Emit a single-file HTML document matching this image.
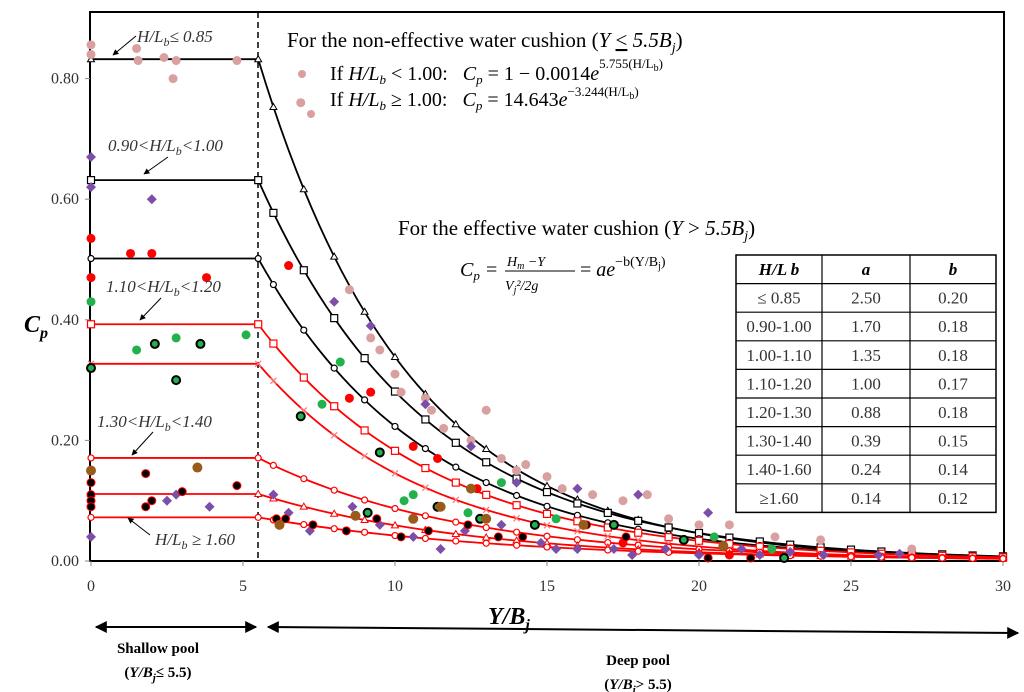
<!DOCTYPE html>
<html><head><meta charset="utf-8">
<style>
body{margin:0;background:#fff;}
svg{display:block;font-family:"Liberation Serif",serif;}
.tk{font-size:16px;fill:#333;}
</style></head>
<body>
<svg id="chart" width="1024" height="692" viewBox="0 0 1024 692">
<defs>
<marker id="ah" viewBox="0 0 10 10" refX="9" refY="5" markerWidth="6" markerHeight="6" orient="auto-start-reverse"><path d="M0,0 L10,5 L0,10 z" fill="#000"/></marker>
</defs>
<rect x="90" y="12" width="914" height="549" fill="none" stroke="#000" stroke-width="2"/>
<line x1="258" y1="12" x2="258" y2="561" stroke="#000" stroke-width="1.5" stroke-dasharray="6,4"/>
<g id="axes"></g>
<g id="curves"></g>
<g id="points"></g>
<text x="287" y="47" font-size="21">For the non-effective water cushion (<tspan font-style="italic">Y</tspan> <tspan text-decoration="underline">&lt;</tspan> <tspan font-style="italic">5.5B<tspan font-size="14" dy="5">j</tspan></tspan><tspan dy="-5">)</tspan></text>
<circle cx="302" cy="74" r="4" fill="#d9a0a0"/>
<text x="330" y="80" font-size="20">If <tspan font-style="italic">H/L<tspan font-size="13" dy="4">b</tspan></tspan><tspan dy="-4"> &lt; 1.00:    </tspan><tspan font-style="italic" dx="10">C<tspan font-size="13" dy="4">p</tspan></tspan><tspan dy="-4"> = 1 − 0.0014<tspan font-style="italic">e</tspan></tspan><tspan font-size="13" dy="-12">5.755(H/L<tspan font-size="10" dy="3">b</tspan><tspan dy="-3">)</tspan></tspan></text>
<circle cx="311" cy="114" r="4" fill="#d9a0a0"/>
<text x="330" y="106" font-size="20">If <tspan font-style="italic">H/L<tspan font-size="13" dy="4">b</tspan></tspan><tspan dy="-4"> ≥ 1.00:    </tspan><tspan font-style="italic" dx="10">C<tspan font-size="13" dy="4">p</tspan></tspan><tspan dy="-4"> = 14.643<tspan font-style="italic">e</tspan></tspan><tspan font-size="13" dy="-10">−3.244(H/L<tspan font-size="10" dy="3">b</tspan><tspan dy="-3">)</tspan></tspan></text>
<text x="398" y="235" font-size="21">For the effective water cushion (<tspan font-style="italic">Y</tspan> &gt; <tspan font-style="italic">5.5B<tspan font-size="14" dy="5">j</tspan></tspan><tspan dy="-5">)</tspan></text>
<g font-size="20">
<text x="460" y="276" font-style="italic">C<tspan font-size="13" dy="4">p</tspan></text>
<text x="486" y="276">=</text>
<text x="507" y="266" font-size="14" font-style="italic">H<tspan font-size="10" dy="3">m</tspan><tspan dy="-3"> −Y</tspan></text>
<line x1="505" y1="271" x2="575" y2="271" stroke="#000" stroke-width="1"/>
<text x="505" y="290" font-size="14" font-style="italic">V<tspan font-size="10" dy="3">j</tspan><tspan dy="-3">²/2g</tspan></text>
<text x="580" y="276">= <tspan font-style="italic">ae</tspan><tspan font-size="14" dy="-10">−b(Y/B<tspan font-size="10" dy="3">j</tspan><tspan dy="-3">)</tspan></tspan></text>
</g>
<g id="table"></g>
<text x="24" y="332" font-size="24" font-weight="bold" font-style="italic">C<tspan font-size="16" dy="6">p</tspan></text>
<text x="488" y="624" font-size="24" font-weight="bold" font-style="italic">Y/B<tspan font-size="16" dy="6">j</tspan></text>
<line x1="96" y1="627" x2="256" y2="627" stroke="#000" stroke-width="2" marker-start="url(#ah)" marker-end="url(#ah)"/>
<line x1="268" y1="627" x2="1018" y2="633" stroke="#000" stroke-width="2" marker-start="url(#ah)" marker-end="url(#ah)"/>
<text x="158" y="653" font-size="15" font-weight="bold" text-anchor="middle">Shallow pool</text>
<text x="158" y="677" font-size="15" font-weight="bold" text-anchor="middle">(<tspan font-style="italic">Y/B<tspan font-size="11" dy="4">j</tspan></tspan><tspan dy="-4">≤ 5.5)</tspan></text>
<text x="638" y="665" font-size="15" font-weight="bold" text-anchor="middle">Deep pool</text>
<text x="638" y="689" font-size="15" font-weight="bold" text-anchor="middle">(<tspan font-style="italic">Y/B<tspan font-size="11" dy="4">j</tspan></tspan><tspan dy="-4">&gt; 5.5)</tspan></text>
<g font-size="17" font-style="italic" fill="#333">
<text x="137" y="42">H/L<tspan font-size="12" dy="4">b</tspan><tspan dy="-4">≤ 0.85</tspan></text>
<line x1="136" y1="36" x2="113" y2="55" stroke="#000" marker-end="url(#ah)"/>
<text x="108" y="151">0.90&lt;H/L<tspan font-size="12" dy="4">b</tspan><tspan dy="-4">&lt;1.00</tspan></text>
<line x1="168" y1="157" x2="144" y2="174" stroke="#000" marker-end="url(#ah)"/>
<text x="106" y="292">1.10&lt;H/L<tspan font-size="12" dy="4">b</tspan><tspan dy="-4">&lt;1.20</tspan></text>
<line x1="161" y1="298" x2="140" y2="320" stroke="#000" marker-end="url(#ah)"/>
<text x="97" y="427">1.30&lt;H/L<tspan font-size="12" dy="4">b</tspan><tspan dy="-4">&lt;1.40</tspan></text>
<line x1="153" y1="432" x2="132" y2="455" stroke="#000" marker-end="url(#ah)"/>
<text x="155" y="545">H/L<tspan font-size="12" dy="4">b</tspan><tspan dy="-4"> ≥ 1.60</tspan></text>
<line x1="150" y1="535" x2="128" y2="518" stroke="#000" marker-end="url(#ah)"/>
</g>
</svg>
<script>
const xTicks=[0,5,10,15,20,25,30];
const yTicks=[0,0.2,0.4,0.6,0.8];
const groups=["≤ 0.85","0.90-1.00","1.00-1.10","1.10-1.20","1.20-1.30","1.30-1.40","1.40-1.60","≥1.60"];
const aVals=[2.50,1.70,1.35,1.00,0.88,0.39,0.24,0.14];
const bVals=[0.20,0.18,0.18,0.17,0.18,0.15,0.14,0.12];
const curveColors=["#000","#000","#000","red","red","red","red","red"];
const curveMarks=["tri","sq","circ","sq","x","circ","tri","circ"];
const pinkPts=[[0,0.856],[0,0.84],[1.5,0.85],[1.55,0.83],[2.4,0.835],[2.8,0.83],[2.7,0.80],[4.8,0.83],[6.9,0.76],[8.5,0.45],[9.2,0.37],[9.5,0.35],[10,0.31],[10.2,0.28],[11,0.27],[11.2,0.25],[11.6,0.22],[12.5,0.2],[13,0.25],[13.5,0.17],[14,0.15],[14.3,0.16],[15,0.14],[15.5,0.12],[16.5,0.11],[17.5,0.1],[18.3,0.11],[19,0.07],[20,0.06],[21,0.06],[22.5,0.04],[24,0.035],[27,0.02]];
const purplePts=[[0,0.67],[0,0.62],[2,0.6],[0,0.04],[2.5,0.1],[2.8,0.11],[3.9,0.09],[8,0.43],[9.2,0.39],[11,0.26],[12.5,0.19],[14,0.13],[16,0.12],[18,0.11],[20.3,0.08],[6,0.11],[6.5,0.08],[7.2,0.05],[8.6,0.09],[9.5,0.06],[10.6,0.04],[11.5,0.02],[12.3,0.05],[13.5,0.06],[14.8,0.03],[15.3,0.02],[16,0.02],[17.2,0.02],[17.8,0.01],[18.9,0.02],[20,0.01],[21.4,0.02],[22,0.01],[23,0.015],[24.1,0.01],[25.9,0.01],[26.6,0.012]];
const redPts=[[0,0.535],[0,0.47],[1.3,0.51],[2,0.51],[3.8,0.47],[6.5,0.49],[9.2,0.28],[8.5,0.27],[10.6,0.19],[11.4,0.17],[12.7,0.12],[17.5,0.03],[21,0.01]];
const greenPts=[[0,0.43],[1.5,0.35],[2.8,0.37],[5.1,0.375],[7.6,0.26],[8.2,0.33],[10.3,0.1],[10.6,0.11],[12.4,0.08],[13.5,0.13],[15.3,0.07],[20.5,0.04],[22.4,0.02]];
const greenRingPts=[[0,0.32],[2.1,0.36],[3.6,0.36],[2.8,0.3],[6.9,0.24],[9.5,0.18],[9.1,0.08],[11.4,0.09],[12.8,0.07],[14.6,0.06],[17.2,0.06],[19.5,0.035],[22.8,0.005]];
const blackPts=[[0,0.13],[0,0.11],[0,0.1],[0,0.09],[1.8,0.09],[2,0.1],[3,0.115],[6.1,0.07],[6.4,0.07],[7.3,0.06],[8.4,0.05],[9.4,0.07],[10.2,0.04],[11.1,0.05],[12.4,0.06],[13.4,0.04],[14.2,0.04],[16.3,0.06],[17.6,0.04],[20.3,0.005],[21.7,0.005],[1.8,0.145],[4.8,0.125]];
const brownPts=[[0,0.15],[3.5,0.155],[6.2,0.06],[8.7,0.075],[10.6,0.07],[11.5,0.09],[12.5,0.12],[13,0.07],[16.2,0.06],[20.8,0.025]];

const NS="http://www.w3.org/2000/svg";
const X=v=>91+v*30.4, Y=v=>561-v*603;
function mk(tag,attrs,parent){const e=document.createElementNS(NS,tag);for(const k in attrs)e.setAttribute(k,attrs[k]);parent.appendChild(e);return e;}
const axes=document.getElementById('axes');
xTicks.forEach(t=>{
  mk('line',{x1:X(t),y1:561,x2:X(t),y2:566,stroke:'#888'},axes);
  const tx=mk('text',{x:X(t),y:591,'text-anchor':'middle',class:'tk'},axes);tx.textContent=t;
  
  
});
yTicks.forEach(t=>{
  mk('line',{x1:85,y1:Y(t),x2:90,y2:Y(t),stroke:'#888'},axes);
  const tx=mk('text',{x:79,y:Y(t)+5,'text-anchor':'end',class:'tk'},axes);tx.textContent=t.toFixed(2);
  
  
});
const cg=document.getElementById('curves');
function marker(type,cx,cy,col,g){
  if(type==='tri')mk('path',{d:`M${cx},${cy-3.5}L${cx+3.5},${cy+2.5}L${cx-3.5},${cy+2.5}Z`,fill:'#fff',stroke:col,'stroke-width':1},g);
  else if(type==='sq')mk('rect',{x:cx-3.5,y:cy-3.5,width:7,height:7,fill:'#fff',stroke:col,'stroke-width':1.2},g);
  else if(type==='x'){mk('path',{d:`M${cx-3},${cy-3}L${cx+3},${cy+3}M${cx-3},${cy+3}L${cx+3},${cy-3}`,stroke:'#f77','stroke-width':1.2},g);}
  else mk('circle',{cx:cx,cy:cy,r:3,fill:'#fff',stroke:col,'stroke-width':1.2},g);
}
aVals.forEach((a,i)=>{
  const b=bVals[i],col=curveColors[i];
  const g=mk('g',{},cg);
  
  
  const f=x=>a*Math.exp(-b*Math.max(x,5.5));
  let d=`M${X(0)},${Y(f(0))}`;
  for(let x=5.5;x<=30.001;x+=0.25)d+=`L${X(x)},${Y(f(x))}`;
  mk('path',{d:d,fill:'none',stroke:col,'stroke-width':1.8},g);
  marker(curveMarks[i],X(0),Y(f(0)),col,g);
  marker(curveMarks[i],X(5.5),Y(f(5.5)),col,g);
  for(let x=6;x<=30;x+=1)marker(curveMarks[i],X(x),Y(f(x)),col,g);
});
const pg=document.getElementById('points');
function scatter(pts,name,draw){
  const g=mk('g',{},pg);
  
  
  pts.forEach(p=>draw(X(p[0]),Y(p[1]),g));
}
scatter(pinkPts,'series-pink',(x,y,g)=>mk('circle',{cx:x,cy:y,r:4.5,fill:'#d9a0a0'},g));
scatter(purplePts,'series-purple',(x,y,g)=>mk('path',{d:`M${x},${y-5}L${x+5},${y}L${x},${y+5}L${x-5},${y}Z`,fill:'#7b4fa8'},g));
scatter(redPts,'series-red',(x,y,g)=>mk('circle',{cx:x,cy:y,r:4.5,fill:'#f00'},g));
scatter(greenPts,'series-green',(x,y,g)=>mk('circle',{cx:x,cy:y,r:4.5,fill:'#22b14c'},g));
scatter(greenRingPts,'series-green-ring',(x,y,g)=>mk('circle',{cx:x,cy:y,r:4,fill:'#22b14c',stroke:'#000','stroke-width':2},g));
scatter(blackPts,'series-black',(x,y,g)=>mk('circle',{cx:x,cy:y,r:4,fill:'#000',stroke:'#f00','stroke-width':1},g));
scatter(brownPts,'series-brown',(x,y,g)=>mk('circle',{cx:x,cy:y,r:5,fill:'#9a5b1a'},g));
// table
const tb=document.getElementById('table');
const tCols=[736,822,910,996],tTop=255,rh=28.6;
const nRows=groups.length+1;
mk('rect',{x:736,y:tTop,width:260,height:rh*nRows,fill:'#fff',stroke:'#000','stroke-width':1.5},tb);
for(let r=1;r<nRows;r++)mk('line',{x1:736,y1:tTop+r*rh,x2:996,y2:tTop+r*rh,stroke:'#000','stroke-width':1.2},tb);
[822,910].forEach(c=>mk('line',{x1:c,y1:tTop,x2:c,y2:tTop+rh*nRows,stroke:'#000','stroke-width':1.2},tb));
const hdr=[['H/L b',779],['a',866],['b',953]];
hdr.forEach(h=>{const t=mk('text',{x:h[1],y:tTop+20,'text-anchor':'middle','font-size':17,'font-weight':'bold','font-style':'italic'},tb);t.textContent=h[0];});
groups.forEach((gname,i)=>{
  const y=tTop+(i+1)*rh+20;
  const vals=[gname,aVals[i].toFixed(2),bVals[i].toFixed(2)];
  vals.forEach((v,j)=>{const t=mk('text',{x:(tCols[j]+tCols[j+1])/2,y:y,'text-anchor':'middle','font-size':17,fill:'#333'},tb);t.textContent=v;});
});
</script>
</body></html>
